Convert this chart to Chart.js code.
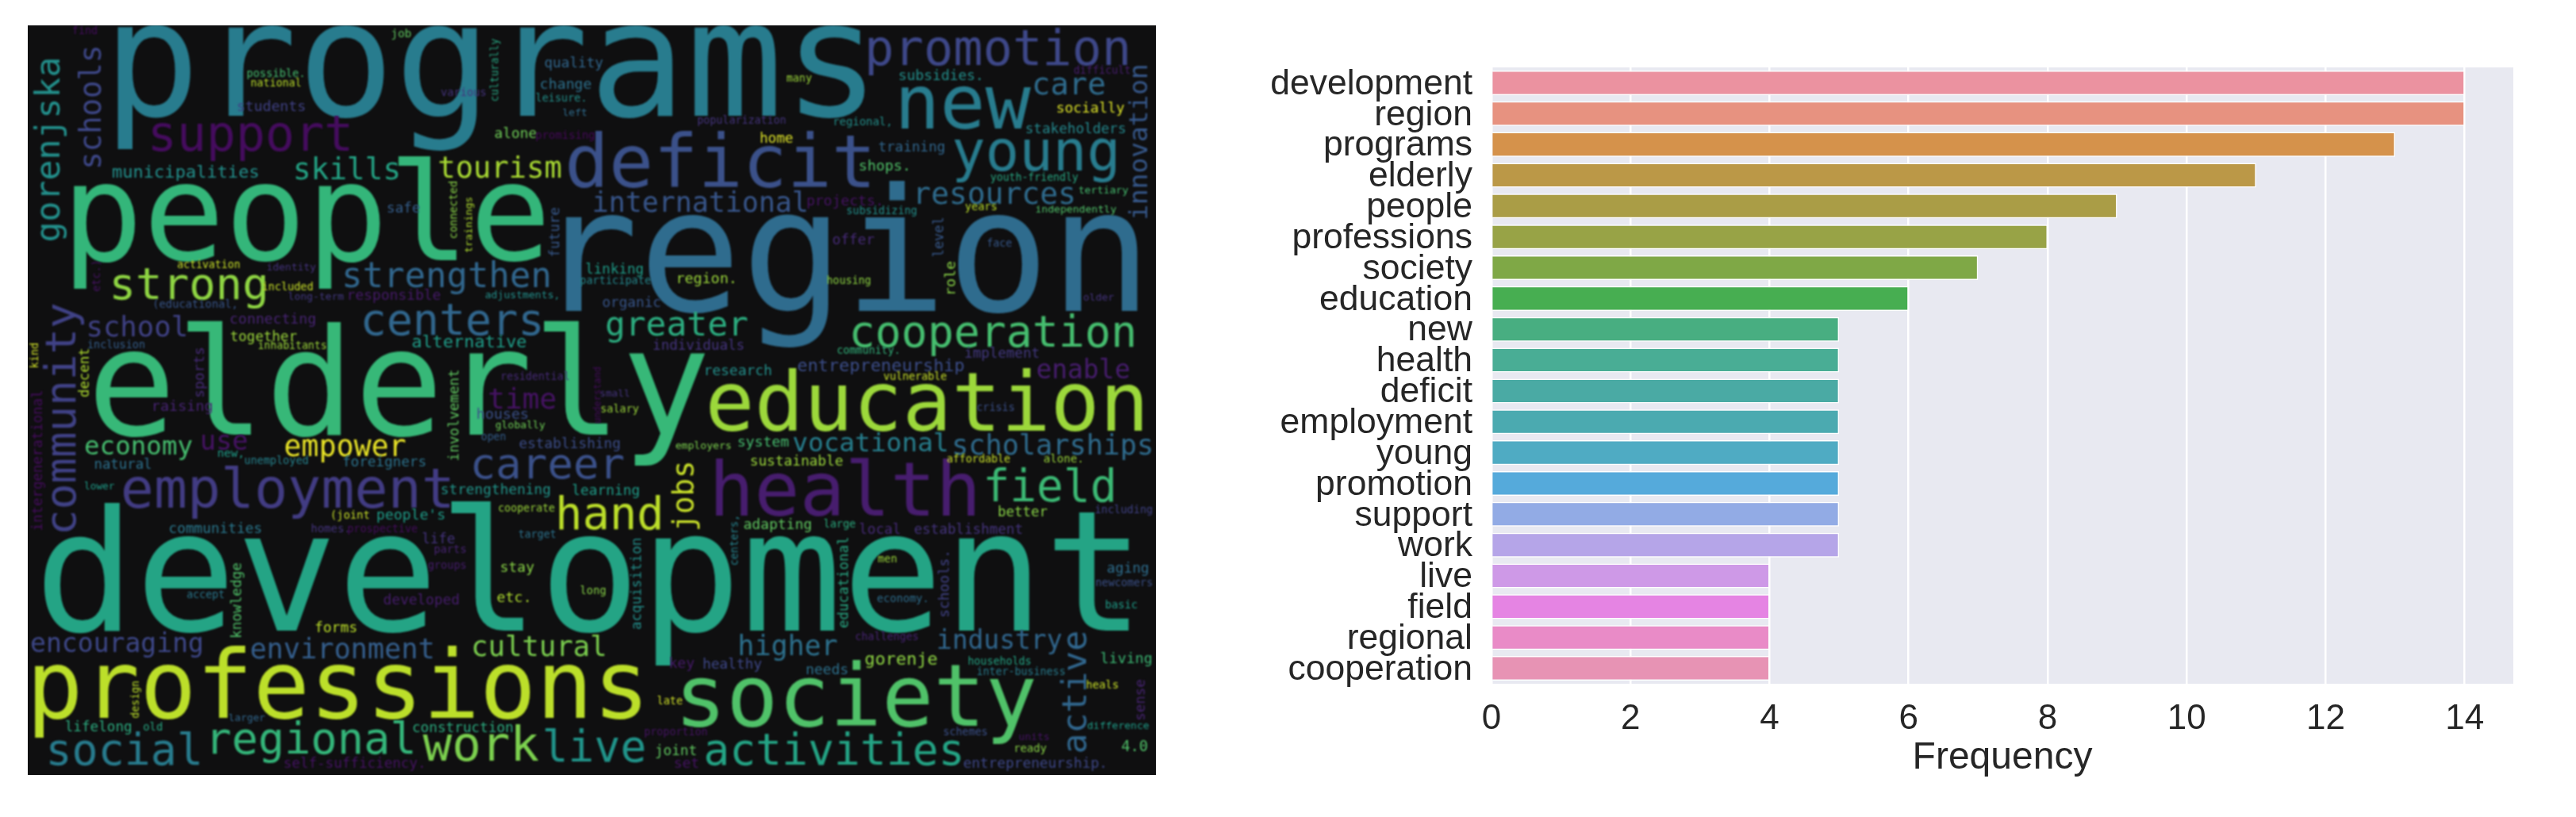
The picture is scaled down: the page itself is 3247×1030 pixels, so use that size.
<!DOCTYPE html>
<html>
<head>
<meta charset="utf-8">
<title>Word cloud and word frequency</title>
<script src="https://cdn.jsdelivr.net/npm/chart.js@4"></script>
<style>
  html, body { margin: 0; padding: 0; background: #ffffff; }
  body { position: relative; width: 3247px; height: 1030px; overflow: hidden; }
  canvas { position: absolute; }
  #cloudChart { left: 35px; top: 32px; }
  #freqChart { left: 1500px; top: 0; }
</style>
</head>
<body>
<canvas id="cloudChart" width="1422" height="945"></canvas>
<canvas id="freqChart" width="1747" height="1030"></canvas>
<script>
// bar chart values
const freqWords = ["development", "region", "programs", "elderly", "people", "professions", "society", "education", "new", "health",
    "deficit", "employment", "young", "promotion", "support", "work", "live", "field", "regional", "cooperation"];
const freqValues = [14, 14, 13, 11, 9, 8, 7, 6, 5, 5, 5, 5, 5, 5, 5, 5, 4, 4, 4, 4];
const freqTicks = [0, 2, 4, 6, 8, 10, 12, 14];
const freqColors = ["#eb92a0", "#e79280", "#d5924b", "#bb9847", "#aa9d46", "#98a346", "#7fa846", "#47ae51", "#48ae81", "#49ad95",
    "#4aaaa4", "#4baab0", "#4fabc3", "#55aadb", "#92abe5", "#b5a5e8", "#ce99e7", "#e584e3", "#e98bc7", "#e793b4"];

// word cloud in image pixels
// wordFrom/wordTo: where the ink starts and stops along the text, wordBase: the baseline
const cloudWords = [
    "programs", "region", "development", "elderly", "people", "professions", "society", "education", "health", "deficit",
    "new", "young", "promotion", "support", "employment", "work", "live", "field", "regional", "cooperation",
    "active", "community", "gorenjska", "schools", "innovation", "strong", "strengthen", "centers", "greater", "career",
    "hand", "activities", "social", "skills", "tourism", "international", "resources", "care", "time", "empower",
    "economy", "use", "school", "vocational", "scholarships", "jobs", "enable", "entrepreneurship", "encouraging", "environment",
    "cultural", "higher", "industry", "gorenje", "municipalities", "alternative", "strengthening", "learning", "establishing", "sustainable",
    "adapting", "establishment", "local", "better", "construction", "lifelong", "self-sufficiency.", "entrepreneurship.", "joint", "set",
    "developed", "knowledge", "acquisition", "educational", "schools.", "forms", "stay", "etc.", "people's", "(joint",
    "communities", "foreigners", "natural", "lower", "new,", "unemployed", "involvement", "intergenerational", "houses", "globally",
    "open", "residential", "raising", "sports", "decent", "kind", "inclusion", "connecting", "together", "inhabitants",
    "(educational,", "long-term", "responsible", "adjustments,", "included", "activation", "identity", "etc.)", "safe", "connected",
    "trainings", "future", "alone", "promising", "students", "possible.", "national", "various", "culturally", "quality",
    "change", "leisure.", "left", "find", "job", "subsidies.", "many", "difficult", "socially", "popularization",
    "regional,", "stakeholders", "home", "training", "shops.", "youth-friendly", "tertiary", "projects.", "subsidizing", "years",
    "independently", "offer", "face", "level", "role", "region.", "housing", "older", "organic", "linking",
    "participate", "individuals", "community.", "implement", "research", "vulnerable", "crisis", "small", "salary", "understand",
    "employers", "system", "affordable", "alone.", "including", "large", "centers,", "cooperate", "homes.", "prospective",
    "target", "life", "parts", "groups", "long", "accept", "men", "economy.", "aging", "newcomers",
    "basic", "challenges", "key", "healthy", "needs", "households", "inter-business", "living", "heals", "sense",
    "late", "difference", "proportion", "schemes", "units", "ready", "4.0", "old", "larger", "design"
];
const wordFrom = [
    148, 712, 56, 121, 93, 44, 861, 895, 902, 717,
    1136, 1203, 1095, 192, 156, 533, 687, 1244, 268, 1075,
    948, 670, 303, 210, 275, 143, 435, 459, 765, 597,
    705, 890, 63, 373, 554, 749, 1157, 1304, 617, 360,
    108, 255, 112, 1000, 1203, 667, 1308, 1006, 40, 317,
    597, 933, 1183, 1091, 142, 520, 557, 722, 655, 947,
    938, 1153, 1084, 1259, 521, 83, 359, 1215, 827, 851,
    484, 803, 793, 791, 777, 398, 632, 627, 476, 419,
    214, 433, 120, 107, 275, 309, 580, 668, 602, 625,
    607, 633, 194, 500, 500, 463, 111, 291, 291, 326,
    195, 364, 440, 612, 331, 224, 337, 367, 489, 300,
    318, 323, 624, 676, 300, 312, 317, 556, 127, 687,
    682, 676, 710, 92, 494, 1134, 992, 1354, 1333, 880,
    1052, 1294, 959, 1108, 1084, 1249, 1360, 1018, 1068, 1217,
    1306, 1050, 1245, 323, 370, 855, 1043, 1366, 760, 739,
    732, 824, 1056, 1217, 890, 1114, 1232, 757, 758, 533,
    852, 931, 1194, 1316, 1381, 1039, 712, 629, 393, 439,
    654, 533, 548, 540, 732, 236, 1107, 1106, 1396, 1382,
    1394, 1079, 845, 887, 1017, 1221, 1232, 1388, 1370, 907,
    829, 1371, 813, 1190, 1285, 1280, 1414, 181, 289, 905
];
const wordTo = [
    1091, 1435, 1424, 890, 686, 808, 1304, 1440, 1229, 1096,
    1300, 1406, 1421, 440, 567, 679, 812, 1403, 520, 1429,
    797, 383, 75, 60, 83, 334, 692, 681, 942, 786,
    832, 1211, 251, 502, 707, 1016, 1353, 1392, 700, 511,
    242, 311, 234, 1193, 1451, 584, 1423, 1215, 254, 545,
    762, 1055, 1338, 1181, 325, 663, 693, 805, 781, 1062,
    1022, 1288, 1134, 1320, 646, 165, 533, 1392, 877, 880,
    578, 710, 679, 678, 697, 449, 673, 666, 560, 465,
    329, 536, 190, 144, 305, 388, 467, 493, 665, 687,
    637, 717, 267, 439, 440, 433, 182, 397, 374, 411,
    297, 433, 555, 703, 394, 302, 398, 330, 529, 229,
    249, 262, 676, 749, 384, 382, 379, 612, 49, 760,
    745, 737, 739, 122, 518, 1236, 1023, 1424, 1417, 990,
    1122, 1418, 999, 1190, 1144, 1359, 1422, 1110, 1155, 1256,
    1407, 1102, 1275, 275, 330, 925, 1097, 1404, 832, 810,
    820, 937, 1132, 1309, 972, 1193, 1278, 793, 805, 463,
    921, 994, 1273, 1363, 1452, 1078, 652, 699, 439, 526,
    700, 573, 587, 587, 763, 282, 1130, 1168, 1447, 1452,
    1433, 1157, 875, 960, 1068, 1299, 1342, 1451, 1409, 857,
    860, 1448, 891, 1244, 1322, 1319, 1446, 204, 334, 859
];
const wordBase = [
    146, 392, 795, 548, 328, 905, 915, 543, 650, 236,
    162, 215, 82, 190, 640, 959, 960, 632, 950, 437,
    1369, 95, 75, 127, 1446, 377, 362, 422, 423, 603,
    667, 964, 964, 226, 224, 267, 257, 119, 515, 575,
    573, 567, 424, 569, 573, 874, 477, 468, 822, 830,
    827, 826, 818, 838, 224, 438, 623, 624, 565, 587,
    667, 673, 673, 651, 923, 922, 968, 968, 952, 968,
    762, 304, 808, 1069, 1196, 797, 721, 759, 655, 654,
    672, 588, 591, 617, 576, 585, 578, 53, 528, 540,
    555, 479, 518, 257, 112, 47.5, 439, 408, 430, 440,
    388, 378, 378, 376, 366, 338, 341, 126, 268, 576,
    595, 705, 174, 175, 140, 97, 109, 121, 628, 85,
    112, 128, 146, 43, 47, 101, 103, 93, 142, 156,
    158, 168, 180, 191, 215, 228, 244, 259, 270, 265,
    268, 308, 311, 1189, 1204, 357, 358, 379, 387, 345,
    358, 441, 446, 451, 473, 479, 518, 500, 520, 757,
    566, 563, 583, 583, 647, 665, 930, 645, 671, 671,
    678, 685, 697, 717, 749, 754, 709, 759, 722, 739,
    767, 807, 842, 843, 850, 838, 851, 836, 868, 1443,
    888, 919, 927, 927, 933, 948, 947, 921, 909, 175
];
// position on the colormap, 0 to 1
const wordShade = [
    .42, .35, .58, .67, .66, .9, .72, .85, .08, .25,
    .42, .42, .22, .03, .18, .8, .52, .68, .66, .7,
    .33, .2, .5, .22, .28, .83, .33, .33, .62, .25,
    .9, .58, .42, .58, .87, .27, .35, .35, .05, .97,
    .7, .05, .2, .43, .35, .92, .08, .24, .22, .3,
    .8, .37, .33, .83, .5, .55, .52, .55, .24, .85,
    .75, .15, .12, .82, .62, .62, .05, .22, .75, .05,
    .08, .72, .5, .6, .2, .9, .82, .88, .55, .92,
    .4, .38, .37, .55, .55, .45, .75, .03, .25, .78,
    .3, .12, .1, .12, .88, .93, .3, .1, .85, .85,
    .27, .17, .07, .5, .92, .92, .15, .05, .3, .82,
    .88, .28, .78, .02, .2, .7, .9, .15, .6, .33,
    .37, .5, .35, .03, .75, .5, .85, .08, .95, .15,
    .5, .47, .95, .33, .72, .6, .7, .05, .5, .9,
    .72, .12, .28, .28, .82, .85, .83, .15, .27, .55,
    .47, .15, .65, .17, .5, .92, .25, .15, .85, .03,
    .8, .7, .92, .85, .2, .62, .45, .85, .15, .03,
    .38, .15, .1, .08, .82, .4, .85, .36, .36, .25,
    .55, .1, .07, .22, .37, .58, .42, .68, .92, .1,
    .93, .55, .05, .25, .05, .82, .72, .6, .33, .9
];
// these read bottom to top
const turnedWords = ["active", "community", "gorenjska", "schools", "innovation", "jobs", "knowledge", "acquisition", "educational", "schools.",
    "involvement", "intergenerational", "sports", "decent", "kind", "etc.)", "connected", "trainings", "future", "culturally",
    "level", "role", "understand", "centers,", "sense", "design"];

const viridis = ["#440154", "#482878", "#3e4989", "#31688e", "#26828e", "#1f9e89", "#35b779", "#6ece58", "#b5de2b", "#fde725"];

function hexParts(hex) {
    return [1, 3, 5].map(function (i) { return parseInt(hex.substr(i, 2), 16); });
}

function viridisAt(shade) {
    const pos = shade * (viridis.length - 1);
    const low = Math.floor(pos);
    const high = Math.min(low + 1, viridis.length - 1);
    const a = hexParts(viridis[low]);
    const b = hexParts(viridis[high]);
    const mix = a.map(function (v, i) { return Math.round(v + (b[i] - v) * (pos - low)); });
    return "rgb(" + mix.join(",") + ")";
}

// paints the plot area before anything else is drawn
const areaBackground = {
    id: "areaBackground",
    beforeDraw(chart, args, opts) {
        const a = chart.chartArea;
        chart.ctx.save();
        chart.ctx.fillStyle = opts.color;
        chart.ctx.fillRect(a.left, a.top, a.right - a.left, a.bottom - a.top);
        chart.ctx.restore();
    }
};

// draws each word of the cloud, stretched to the ink length
const cloudText = {
    id: "cloudText",
    afterDatasetsDraw(chart) {
        const ctx = chart.ctx;
        const xs = chart.scales.x;
        const ys = chart.scales.y;
        ctx.save();
        ctx.textBaseline = "alphabetic";
        ctx.textAlign = "left";
        ctx.filter = "blur(0.9px)";
        cloudWords.forEach(function (word, i) {
            const turned = turnedWords.includes(word);
            const start = turned ? ys.getPixelForValue(wordFrom[i]) : xs.getPixelForValue(wordFrom[i]);
            const end = turned ? ys.getPixelForValue(wordTo[i]) : xs.getPixelForValue(wordTo[i]);
            const base = turned ? xs.getPixelForValue(wordBase[i]) : ys.getPixelForValue(wordBase[i]);
            ctx.font = "100px 'DejaVu Sans Mono'";
            const m = ctx.measureText(word);
            const ink = m.actualBoundingBoxLeft + m.actualBoundingBoxRight;
            const size = 100 * Math.abs(end - start) / ink;
            ctx.font = size + "px 'DejaVu Sans Mono'";
            ctx.fillStyle = viridisAt(wordShade[i]);
            const lead = m.actualBoundingBoxLeft * size / 100;
            ctx.save();
            if (turned) {
                ctx.translate(base, start);
                ctx.rotate(-Math.PI / 2);
            } else {
                ctx.translate(start, base);
            }
            ctx.fillText(word, lead, 0);
            ctx.restore();
        });
        ctx.restore();
    }
};

document.addEventListener("DOMContentLoaded", function () {
    new Chart(document.getElementById("cloudChart").getContext("2d"), {
        type: "scatter",
        data: {
            datasets: [{
                data: cloudWords.map(function (word, i) {
                    return turnedWords.includes(word) ? { x: wordBase[i], y: wordFrom[i] } : { x: wordFrom[i], y: wordBase[i] };
                }),
                pointRadius: 0
            }]
        },
        options: {
            responsive: false,
            animation: false,
            layout: { padding: 0 },
            plugins: {
                legend: { display: false },
                tooltip: { enabled: false },
                areaBackground: { color: "#0f0f10" }
            },
            scales: {
                x: { display: false, min: 35, max: 1457 },
                y: { display: false, min: 32, max: 977, reverse: true }
            }
        },
        plugins: [areaBackground, cloudText]
    });

    new Chart(document.getElementById("freqChart").getContext("2d"), {
        type: "bar",
        data: {
            labels: freqWords,
            datasets: [{
                data: freqValues,
                backgroundColor: freqColors,
                borderColor: "#ffffff",
                borderWidth: 1.5,
                barPercentage: 0.8,
                categoryPercentage: 1
            }]
        },
        options: {
            indexAxis: "y",
            responsive: false,
            animation: false,
            layout: { padding: { top: 85, right: 79, left: 0, bottom: 0 } },
            plugins: {
                legend: { display: false },
                tooltip: { enabled: false },
                areaBackground: { color: "#e8e9f1" }
            },
            scales: {
                x: {
                    min: 0,
                    max: 14.7,
                    afterFit(scale) { scale.height = 168; },
                    afterBuildTicks(scale) { scale.ticks = freqTicks.map(function (v) { return { value: v }; }); },
                    grid: { color: "#ffffff", lineWidth: 2.5, drawTicks: false },
                    border: { display: false },
                    ticks: {
                        padding: 18,
                        maxRotation: 0,
                        includeBounds: false,
                        color: "#262626",
                        font: { family: "'Liberation Sans'", size: 44 }
                    },
                    title: {
                        display: true,
                        text: "Frequency",
                        color: "#262626",
                        padding: { top: 0, bottom: 45 },
                        font: { family: "'Liberation Sans'", size: 48 }
                    }
                },
                y: {
                    afterFit(scale) { scale.width = 380; },
                    grid: { display: false, drawTicks: false },
                    border: { display: false },
                    ticks: {
                        padding: 24,
                        labelOffset: 2,
                        autoSkip: false,
                        color: "#262626",
                        font: { family: "'Liberation Sans'", size: 44.5 }
                    }
                }
            }
        },
        plugins: [areaBackground]
    });
});
</script>
</body>
</html>
